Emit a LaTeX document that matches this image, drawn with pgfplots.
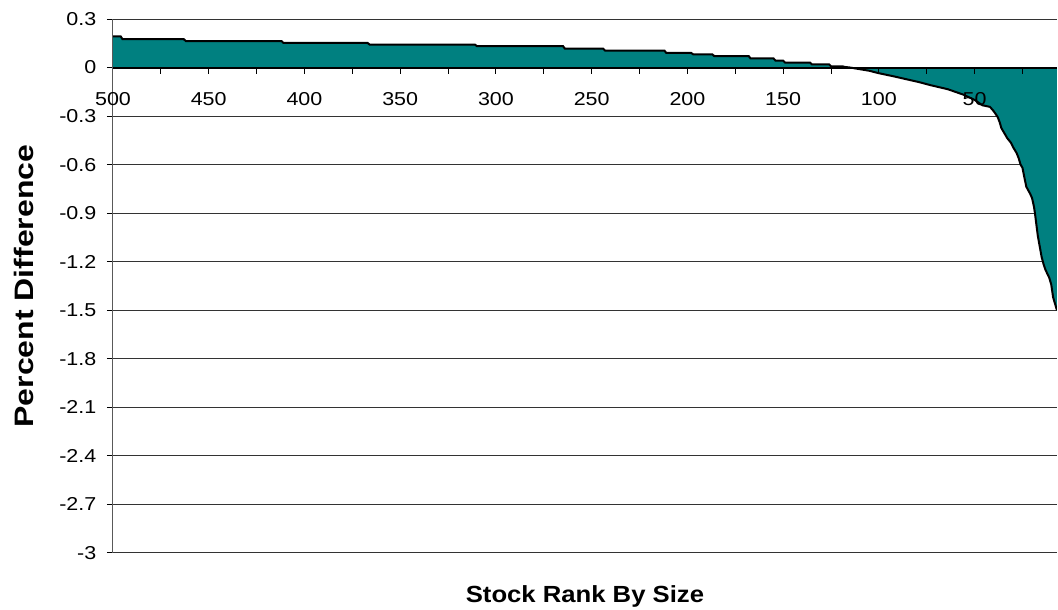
\documentclass[border=0pt]{standalone}
\usepackage{fontspec}
\setmainfont{Liberation Sans}
\usepackage{pgfplots}
\usepackage{pgfplotstable}
\pgfplotsset{compat=1.18}
\newcommand\tl[1]{\scalebox{1.15}[1]{#1}}
\definecolor{tealfill}{HTML}{008080}
\pgfplotstableread{
rank val
500 0.193
496 0.193
495 0.175
463 0.175
462 0.164
412 0.164
411 0.152
367 0.152
366 0.142
311 0.142
310 0.133
265 0.133
264 0.117
244 0.117
243 0.105
212 0.105
211 0.090
198 0.090
197 0.082
187 0.082
186 0.071
168 0.071
167 0.056
155 0.056
154 0.043
150 0.043
149 0.031
136 0.031
135 0.020
126 0.020
125 0.008
119 0.008
118 0.004
115 0
110 -0.010
105 -0.020
100 -0.035
92 -0.055
85 -0.074
79 -0.090
73 -0.109
64 -0.134
56 -0.167
50 -0.200
46 -0.233
42 -0.243
40 -0.270
38 -0.305
37 -0.335
36 -0.375
34 -0.415
33 -0.436
31 -0.465
30 -0.490
28 -0.530
27 -0.560
26 -0.600
25 -0.620
24 -0.680
23 -0.737
21 -0.780
20 -0.807
19 -0.860
18.5 -0.900
17 -1.040
15 -1.171
14 -1.215
13 -1.250
11 -1.300
10 -1.340
9 -1.420
8 -1.460
7 -1.500
}\rankdata
\pgfplotstableread{
y
-3
-2.7
-2.4
-2.1
-1.8
-1.5
-1.2
-0.9
-0.6
-0.3
0.3
}\gridvals
\begin{document}
\begin{tikzpicture}
\begin{axis}[
  axis on top,
  scale only axis, width=708pt, height=400.5pt,
  x dir=reverse, xmin=7, xmax=500, ymin=-3, ymax=0.3,
  axis x line=middle, axis y line=left, axis line style={-},
  hide obscured x ticks=false, hide obscured y ticks=false,
  x axis line style={black, line width=1.5pt},
  y axis line style={black!65, line width=0.75pt},
  xtick={50,100,150,200,250,300,350,400,450,500}, minor xtick={25,75,...,475},
  xticklabels={\tl{50},\tl{100},\tl{150},\tl{200},\tl{250},\tl{300},\tl{350},\tl{400},\tl{450},\tl{500}},
  xticklabel style={yshift=-11pt},
  ytick={-3,-2.7,-2.4,-2.1,-1.8,-1.5,-1.2,-0.9,-0.6,-0.3,0,0.3},
  yticklabels={\tl{-3},\tl{-2.7},\tl{-2.4},\tl{-2.1},\tl{-1.8},\tl{-1.5},\tl{-1.2},\tl{-0.9},\tl{-0.6},\tl{-0.3},\tl{0},\tl{0.3}},
  yticklabel style={xshift=-4.5pt},
  tick align=outside, major tick length=4.5pt, minor tick length=4.5pt,
  every tick/.style={black, line width=0.75pt},
  minor tick style={black, line width=0.75pt},
  tick label style={font=\fontsize{14}{16}\selectfont},
  xlabel={\fontsize{17.5}{21}\selectfont\bfseries\scalebox{1.1}[1]{Stock Rank By Size}},
  ylabel={\fontsize{20}{24}\selectfont\bfseries\scalebox{1.2}[1]{Percent Difference}},
  xlabel style={at={(axis description cs:0.5,-0.0805)}, anchor=center},
  ylabel style={at={(axis description cs:-0.0943,0.5)}, anchor=center, rotate=0},
  clip=true,
]
\pgfplotstablegetrowsof{\gridvals}
\pgfmathtruncatemacro{\nrows}{\pgfplotsretval-1}
\pgfplotsinvokeforeach{0,...,\nrows}{
  \pgfplotstablegetelem{#1}{y}\of{\gridvals}
  \edef\gy{\pgfplotsretval}
  \edef\tmp{\noexpand\addplot[black!80, line width=0.75pt, forget plot] coordinates {(500,\gy) (7,\gy)};}
  \tmp
}
\addplot[fill=tealfill, draw=none] table[x=rank, y=val] {\rankdata} \closedcycle;
\addplot[black, line width=1.5pt] table[x=rank, y=val] {\rankdata};
\coordinate (bl) at (axis description cs:-0.1197,-0.1067);
\coordinate (tr) at (axis description cs:1.0011,1.0356);
\end{axis}
\pgfresetboundingbox
\path (bl) rectangle (tr);
\end{tikzpicture}
\end{document}
